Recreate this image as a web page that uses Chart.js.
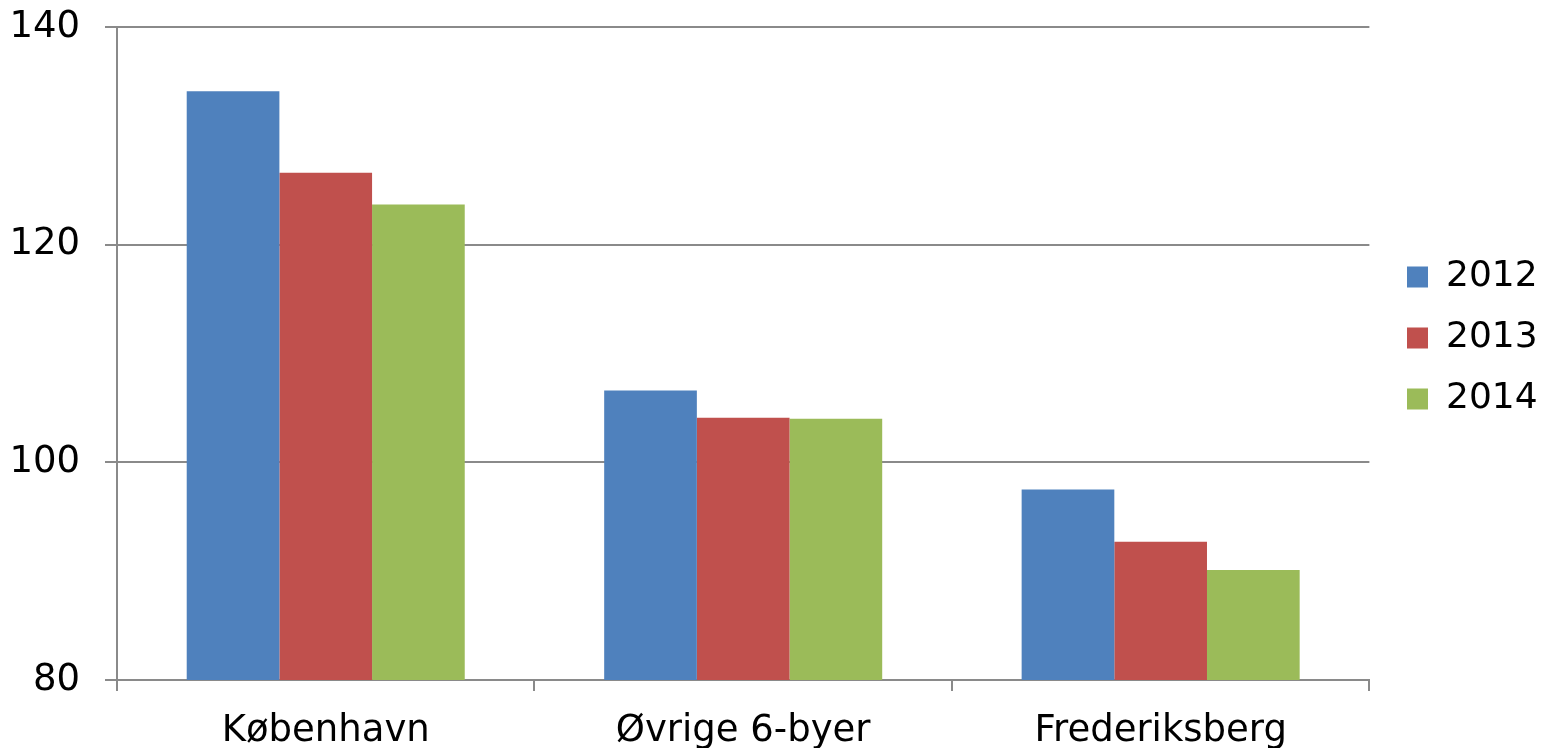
<!DOCTYPE html>
<html>
<head>
<meta charset="utf-8">
<script src="https://cdn.jsdelivr.net/npm/chart.js@4.4.0/dist/chart.umd.min.js"></script>
<style>
  html, body { margin: 0; padding: 0; background: #fff; overflow: hidden; }
  #wrap { width: 1541px; height: 770px; position: relative; }
</style>
</head>
<body>
<div id="wrap"><canvas id="myChart"></canvas></div>
<script>
// data
const categories = ["København", "Øvrige 6-byer", "Frederiksberg"];
const years = ["2012", "2013", "2014"];
const values2012 = [134.1, 106.6, 97.5];
const values2013 = [126.6, 104.1, 92.7];
const values2014 = [123.7, 104.0, 90.1];
const yTicks = [80, 100, 120, 140];

const colors = ["#4F81BD", "#C0504D", "#9BBB59"];
const gridColor = "#8a8a8a";
const fontFamily = "'DejaVu Sans', Verdana, sans-serif";

Chart.defaults.font.family = fontFamily;
Chart.defaults.color = "#000";

// move legend to where the reference puts it
const legendPlace = {
    id: "legendPlace",
    afterLayout(chart) {
        const lg = chart.legend;
        const h = lg.height;
        lg.left = 1382;
        lg.right = lg.left + lg.width;
        lg.top = 234;
        lg.bottom = lg.top + h;
    }
};

const ctx = document.getElementById("myChart").getContext("2d");
const myChart = new Chart(ctx, {
    type: "bar",
    data: {
        labels: categories,
        datasets: [
            { label: years[0], data: values2012, backgroundColor: colors[0] },
            { label: years[1], data: values2013, backgroundColor: colors[1] },
            { label: years[2], data: values2014, backgroundColor: colors[2] }
        ]
    },
    options: {
        responsive: true,
        maintainAspectRatio: false,
        animation: false,
        layout: { padding: { top: 27, right: 6, bottom: 0, left: 0 } },
        datasets: { bar: { barPercentage: 1, categoryPercentage: 0.666 } },
        plugins: {
            tooltip: { enabled: false },
            legend: {
                position: "right",
                align: "start",
                fullSize: false,
                maxWidth: 174,
                labels: {
                    boxWidth: 21,
                    boxHeight: 21,
                    padding: 25,
                    font: { size: 36 },
                    color: "#000"
                }
            }
        },
        scales: {
            x: {
                offset: true,
                grid: {
                    drawOnChartArea: false,
                    drawTicks: true,
                    tickLength: 11,
                    color: gridColor,
                    lineWidth: 2
                },
                border: { color: gridColor, width: 2 },
                ticks: { font: { size: 37 }, color: "#000", padding: 18, maxRotation: 0 },
                afterFit(scale) { scale.height = 90; }
            },
            y: {
                min: 80,
                max: 140,
                afterBuildTicks(scale) { scale.ticks = yTicks.map(v => ({ value: v })); },
                grid: {
                    color: gridColor,
                    lineWidth: 2,
                    tickLength: 12
                },
                border: { color: gridColor, width: 2 },
                ticks: { font: { size: 37 }, color: "#000", padding: 25 },
                afterFit(scale) {
                    scale.width = 117;
                    scale.paddingTop = 0;
                    scale.paddingBottom = 0;
                }
            }
        }
    },
    plugins: [legendPlace]
});
</script>
</body>
</html>
